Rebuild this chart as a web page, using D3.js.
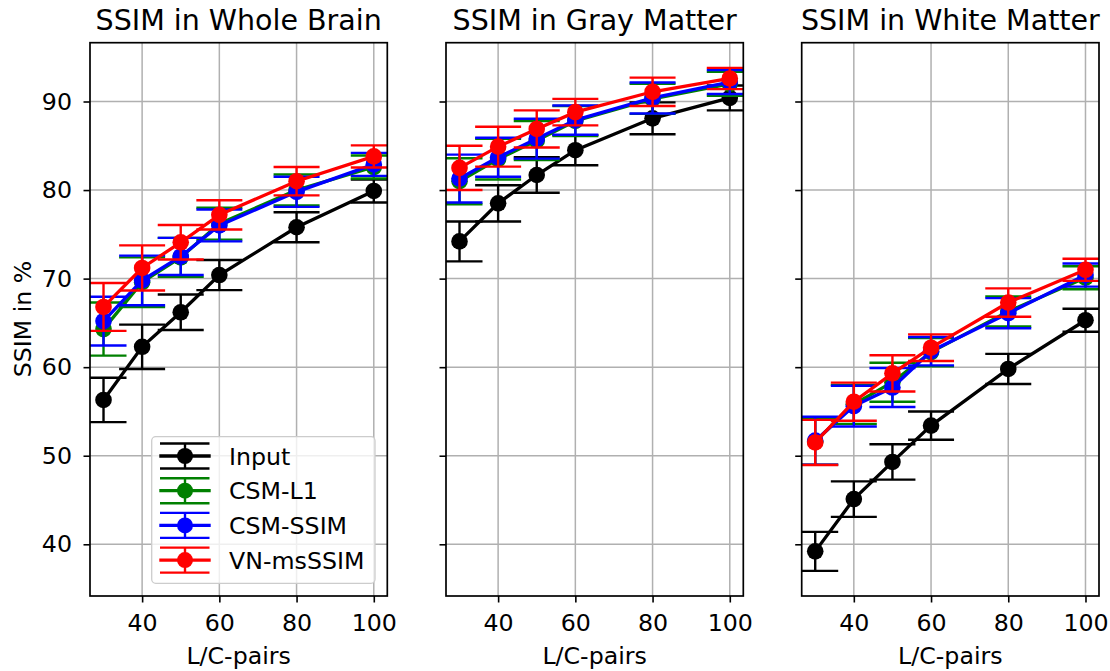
<!DOCTYPE html>
<html>
<head>
  <meta charset="utf-8">
  <title>SSIM per region</title>
  <script src="https://d3js.org/d3.v7.min.js"></script>
  <style>
    body { margin: 0; background: white; }
    text { font-family: "DejaVu Sans", sans-serif; fill: black; }
    .grid line { stroke: #b0b0b0; stroke-width: 1.5; }
  </style>
</head>
<body>
<svg id="chart" width="1110" height="671"></svg>
<script>
// L/C-pairs on the x axis
var pairs = [30, 40, 50, 60, 80, 100];
var panelTitles = ["SSIM in Whole Brain", "SSIM in Gray Matter", "SSIM in White Matter"];
var seriesNames = ["Input", "CSM-L1", "CSM-SSIM", "VN-msSSIM"];
var seriesColors = ["#000000", "#008000", "#0000ff", "#ff0000"];
var xTicks = [40, 60, 80, 100];
var yTicks = [40, 50, 60, 70, 80, 90];

// mean SSIM (%) per series, one row per series
var wholeBrain = [
  [56.3, 62.3, 66.2, 70.4, 75.8, 79.9],
  [64.3, 69.6, 72.4, 76.2, 80.0, 82.6],
  [65.2, 69.8, 72.5, 76.0, 79.8, 82.9],
  [66.8, 71.2, 74.1, 77.2, 81.0, 83.8]
];
var wholeBrainErr = [
  [2.5, 2.5, 2.0, 1.7, 1.7, 1.3],
  [3.0, 2.8, 2.2, 1.8, 1.75, 1.3],
  [2.75, 2.8, 2.1, 1.8, 1.7, 1.3],
  [2.7, 2.55, 1.95, 1.65, 1.6, 1.25]
];
var grayMatter = [
  [74.2, 78.5, 81.7, 84.5, 88.1, 90.4],
  [81.0, 83.5, 85.6, 87.8, 90.3, 92.0],
  [81.3, 83.7, 85.8, 87.9, 90.4, 92.2],
  [82.5, 84.9, 86.9, 88.8, 91.1, 92.6]
];
var grayMatterErr = [
  [2.25, 2.05, 2.0, 1.7, 1.8, 1.4],
  [2.6, 2.3, 2.2, 1.7, 1.7, 1.35],
  [2.7, 2.2, 2.25, 1.65, 1.75, 1.35],
  [2.5, 2.25, 2.1, 1.5, 1.6, 1.2]
];
var whiteMatter = [
  [39.2, 45.1, 49.3, 53.4, 59.8, 65.3],
  [51.6, 55.8, 58.3, 61.7, 66.3, 70.1],
  [51.7, 55.6, 57.7, 61.8, 66.1, 70.4],
  [51.5, 56.1, 59.3, 62.2, 67.3, 71.0]
];
var whiteMatterErr = [
  [2.2, 2.0, 2.0, 1.6, 1.7, 1.3],
  [2.6, 2.2, 2.2, 1.6, 1.7, 1.3],
  [2.7, 2.3, 2.2, 1.6, 1.7, 1.3],
  [2.55, 2.15, 2.05, 1.5, 1.6, 1.25]
];

var panelMeans = [wholeBrain, grayMatter, whiteMatter];
var panelErrs = [wholeBrainErr, grayMatterErr, whiteMatterErr];

var svg = d3.select("#chart");
var top_ = 42.7, bottom = 596;
var panelLeft = [90, 446, 801.7];
var panelWidth = 297.3;
var capHalf = 23, markerR = 8.3;
var tickFont = "23.7px", titleFont = "28.5px";

// shared y domain with matplotlib-like 5% margins
var lo = Infinity, hi = -Infinity;
panelMeans.forEach(function(p, pi) {
  p.forEach(function(s, si) {
    s.forEach(function(v, i) {
      lo = Math.min(lo, v - panelErrs[pi][si][i]);
      hi = Math.max(hi, v + panelErrs[pi][si][i]);
    });
  });
});
var pad = (hi - lo) * 0.05;
var y = d3.scaleLinear().domain([lo - pad, hi + pad]).range([bottom, top_]);
var xpad = (d3.max(pairs) - d3.min(pairs)) * 0.05;

panelTitles.forEach(function(title, pi) {
  var left = panelLeft[pi], right = left + panelWidth;
  var x = d3.scaleLinear().domain([d3.min(pairs) - xpad, d3.max(pairs) + xpad]).range([left, right]);
  var g = svg.append("g");

  svg.append("clipPath").attr("id", "clip" + pi)
    .append("rect").attr("x", left).attr("y", top_).attr("width", panelWidth).attr("height", bottom - top_);

  // grid
  var grid = g.append("g").attr("class", "grid");
  grid.selectAll(".gx").data(xTicks).enter().append("line")
    .attr("x1", d => x(d)).attr("x2", d => x(d)).attr("y1", top_).attr("y2", bottom);
  grid.selectAll(".gy").data(yTicks).enter().append("line")
    .attr("x1", left).attr("x2", right).attr("y1", d => y(d)).attr("y2", d => y(d));

  // data
  var plot = g.append("g").attr("clip-path", "url(#clip" + pi + ")");
  seriesNames.forEach(function(name, si) {
    var col = seriesColors[si];
    var pts = pairs.map(function(p, i) {
      return { x: p, v: panelMeans[pi][si][i], e: panelErrs[pi][si][i] };
    });
    var sg = plot.append("g");
    sg.selectAll(".bar").data(pts).enter().append("line")
      .attr("x1", d => x(d.x)).attr("x2", d => x(d.x))
      .attr("y1", d => y(d.v - d.e)).attr("y2", d => y(d.v + d.e))
      .attr("stroke", col).attr("stroke-width", 2.4);
    [-1, 1].forEach(function(sgn) {
      sg.selectAll(".cap" + sgn).data(pts).enter().append("line")
        .attr("x1", d => x(d.x) - capHalf).attr("x2", d => x(d.x) + capHalf)
        .attr("y1", d => y(d.v + sgn * d.e)).attr("y2", d => y(d.v + sgn * d.e))
        .attr("stroke", col).attr("stroke-width", 2.4);
    });
    sg.append("path").datum(pts)
      .attr("d", d3.line().x(d => x(d.x)).y(d => y(d.v)))
      .attr("fill", "none").attr("stroke", col).attr("stroke-width", 3.3);
    sg.selectAll("circle").data(pts).enter().append("circle")
      .attr("cx", d => x(d.x)).attr("cy", d => y(d.v)).attr("r", markerR)
      .attr("fill", col);
  });

  // axes
  var xa = g.append("g").attr("transform", "translate(0," + bottom + ")")
    .call(d3.axisBottom(x).tickValues(xTicks).tickSize(6.5).tickPadding(12));
  var ya = g.append("g").attr("transform", "translate(" + left + ",0)")
    .call(d3.axisLeft(y).tickValues(yTicks).tickSize(6.5).tickPadding(11.5)
      .tickFormat(pi === 0 ? d3.format("d") : ""));
  [xa, ya].forEach(function(a) {
    a.select(".domain").remove();
    a.selectAll(".tick line").attr("stroke", "black").attr("stroke-width", 1.6);
    a.selectAll(".tick text").style("font-size", tickFont).attr("fill", "black");
  });
  g.append("rect").attr("x", left).attr("y", top_).attr("width", panelWidth).attr("height", bottom - top_)
    .attr("fill", "none").attr("stroke", "black").attr("stroke-width", 1.7);

  g.append("text").attr("x", left + panelWidth / 2).attr("y", 29.5)
    .attr("text-anchor", "middle").style("font-size", titleFont).text(title);
  g.append("text").attr("x", left + panelWidth / 2).attr("y", 664)
    .attr("text-anchor", "middle").style("font-size", tickFont).text("L/C-pairs");
});

svg.append("text").attr("transform", "translate(30.5,319) rotate(-90)")
  .attr("text-anchor", "middle").style("font-size", tickFont).text("SSIM in %");

// legend
var leg = svg.append("g");
leg.append("rect").attr("x", 151.7).attr("y", 436.7).attr("width", 223.3).attr("height", 146.6)
  .attr("rx", 4).attr("fill", "white").attr("fill-opacity", 0.8)
  .attr("stroke", "#cccccc").attr("stroke-width", 1.3);
seriesNames.forEach(function(name, si) {
  var cy = 456 + si * 34.7, col = seriesColors[si];
  var r = leg.append("g");
  r.append("line").attr("x1", 159.3).attr("x2", 210.7).attr("y1", cy).attr("y2", cy)
    .attr("stroke", col).attr("stroke-width", 3.3);
  r.append("line").attr("x1", 185).attr("x2", 185).attr("y1", cy - 12.5).attr("y2", cy + 12.5)
    .attr("stroke", col).attr("stroke-width", 2.4);
  [-12.5, 12.5].forEach(function(dy) {
    r.append("line").attr("x1", 160).attr("x2", 209.5).attr("y1", cy + dy).attr("y2", cy + dy)
      .attr("stroke", col).attr("stroke-width", 2.4);
  });
  r.append("circle").attr("cx", 185).attr("cy", cy).attr("r", 8).attr("fill", col);
  r.append("text").attr("x", 229).attr("y", cy).attr("dy", "0.36em")
    .style("font-size", tickFont).text(name);
});
</script>
</body>
</html>
